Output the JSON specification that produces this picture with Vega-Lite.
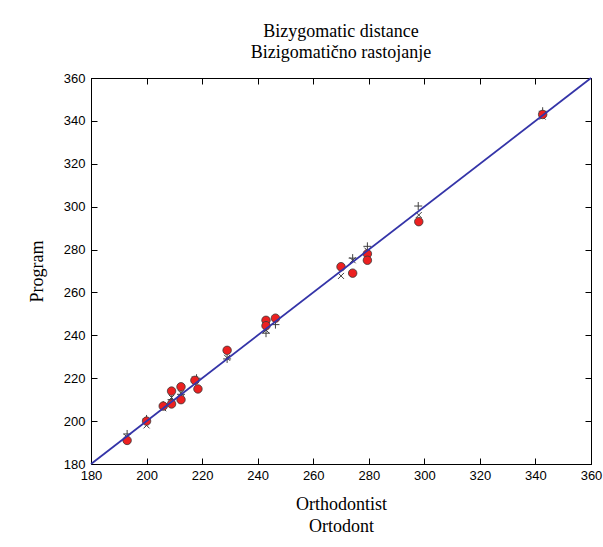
{
  "$schema": "https://vega.github.io/schema/vega-lite/v6.json",
  "width": 500,
  "height": 386,
  "autosize": "none",
  "padding": {"left": 91, "top": 78, "right": 12, "bottom": 83},
  "background": "white",
  "title": {
    "text": ["Bizygomatic distance", "Bizigomatično rastojanje"],
    "font": "Liberation Serif",
    "fontSize": 18,
    "fontWeight": "normal",
    "color": "black",
    "lineHeight": 21,
    "offset": 10,
    "anchor": "middle"
  },
  "config": {
    "view": {"stroke": "black", "strokeWidth": 1},
    "axis": {
      "grid": false,
      "domainColor": "black",
      "domainWidth": 1,
      "tickColor": "black",
      "tickSize": -6,
      "labelColor": "black",
      "labelFont": "Liberation Sans",
      "labelFontSize": 13,
      "labelFlush": false,
      "labelOverlap": false,
      "titleFont": "Liberation Serif",
      "titleFontSize": 18,
      "titleFontWeight": "normal",
      "titleColor": "black"
    }
  },
  "datasets": {
    "diag": [{"orth": 180, "prog": 180}, {"orth": 360, "prog": 360}],
    "pts": [
      {"orth": 193, "prog": 191, "series": "circle"},
      {"orth": 200, "prog": 200, "series": "circle"},
      {"orth": 206, "prog": 207, "series": "circle"},
      {"orth": 209, "prog": 208, "series": "circle"},
      {"orth": 209, "prog": 214, "series": "circle"},
      {"orth": 212.4, "prog": 210, "series": "circle"},
      {"orth": 212.4, "prog": 216, "series": "circle"},
      {"orth": 217.4, "prog": 219, "series": "circle"},
      {"orth": 218.5, "prog": 215, "series": "circle"},
      {"orth": 229, "prog": 233, "series": "circle"},
      {"orth": 243, "prog": 247, "series": "circle"},
      {"orth": 243, "prog": 244.5, "series": "circle"},
      {"orth": 246.4, "prog": 248, "series": "circle"},
      {"orth": 270, "prog": 272, "series": "circle"},
      {"orth": 274.2, "prog": 269, "series": "circle"},
      {"orth": 279.5, "prog": 278, "series": "circle"},
      {"orth": 279.5, "prog": 275, "series": "circle"},
      {"orth": 298, "prog": 293, "series": "circle"},
      {"orth": 342.6, "prog": 343, "series": "circle"},
      {"orth": 193, "prog": 194, "series": "plus"},
      {"orth": 200, "prog": 201, "series": "plus"},
      {"orth": 206, "prog": 207.5, "series": "plus"},
      {"orth": 209, "prog": 210, "series": "plus"},
      {"orth": 212.4, "prog": 212.5, "series": "plus"},
      {"orth": 218, "prog": 220, "series": "plus"},
      {"orth": 229, "prog": 229, "series": "plus"},
      {"orth": 243, "prog": 241, "series": "plus"},
      {"orth": 246.4, "prog": 245, "series": "plus"},
      {"orth": 274.2, "prog": 276, "series": "plus"},
      {"orth": 279.5, "prog": 281.5, "series": "plus"},
      {"orth": 297.8, "prog": 300.3, "series": "plus"},
      {"orth": 342.6, "prog": 344.5, "series": "plus"},
      {"orth": 193, "prog": 192.5, "series": "x"},
      {"orth": 200, "prog": 198, "series": "x"},
      {"orth": 206, "prog": 206, "series": "x"},
      {"orth": 209, "prog": 211, "series": "x"},
      {"orth": 212.4, "prog": 213, "series": "x"},
      {"orth": 217.4, "prog": 219.5, "series": "x"},
      {"orth": 229, "prog": 229.5, "series": "x"},
      {"orth": 243, "prog": 242.5, "series": "x"},
      {"orth": 270, "prog": 267.7, "series": "x"},
      {"orth": 274.2, "prog": 275, "series": "x"},
      {"orth": 279.5, "prog": 279.5, "series": "x"},
      {"orth": 298, "prog": 296.1, "series": "x"},
      {"orth": 342.6, "prog": 342, "series": "x"}
    ]
  },
  "resolve": {"axis": {"x": "independent", "y": "independent"}},
  "layer": [
    {
      "data": {"name": "pts"},
      "transform": [{"filter": "datum.series === 'plus'"}],
      "mark": {"type": "point", "shape": "M-1,0L1,0M0,-1L0,1", "filled": false, "stroke": "#3f3f3f", "strokeWidth": 1, "size": 64, "opacity": 1},
      "encoding": {
        "x": {"field": "orth", "type": "quantitative", "scale": {"domain": [180, 360], "nice": false, "zero": false},
              "axis": {"orient": "bottom", "values": [180, 200, 220, 240, 260, 280, 300, 320, 340, 360], "labelPadding": 11, "title": ["Orthodontist", "Ortodont"], "titlePadding": 13, "titleLineHeight": 22}},
        "y": {"field": "prog", "type": "quantitative", "scale": {"domain": [180, 360], "nice": false, "zero": false},
              "axis": {"orient": "left", "values": [180, 200, 220, 240, 260, 280, 300, 320, 340, 360], "labelPadding": 12, "title": "Program", "titlePadding": 17}}
      }
    },
    {
      "data": {"name": "pts"},
      "transform": [{"filter": "datum.series === 'x'"}],
      "mark": {"type": "point", "shape": "M-1,-1L1,1M-1,1L1,-1", "filled": false, "stroke": "#3f3f3f", "strokeWidth": 1, "size": 36, "opacity": 1},
      "encoding": {
        "x": {"field": "orth", "type": "quantitative", "axis": {"orient": "top", "values": [180, 200, 220, 240, 260, 280, 300, 320, 340, 360], "labels": false, "title": null}},
        "y": {"field": "prog", "type": "quantitative", "axis": {"orient": "right", "values": [180, 200, 220, 240, 260, 280, 300, 320, 340, 360], "labels": false, "title": null}}
      }
    },
    {
      "data": {"name": "pts"},
      "transform": [{"filter": "datum.series === 'circle'"}],
      "mark": {"type": "point", "shape": "circle", "filled": true, "fill": "#ec2020", "stroke": "#3a3a3a", "strokeWidth": 0.8, "size": 72, "opacity": 1},
      "encoding": {
        "x": {"field": "orth", "type": "quantitative", "axis": null},
        "y": {"field": "prog", "type": "quantitative", "axis": null}
      }
    },
    {
      "data": {"name": "diag"},
      "mark": {"type": "line", "color": "#3434a8", "strokeWidth": 1.8},
      "encoding": {
        "x": {"field": "orth", "type": "quantitative", "axis": null},
        "y": {"field": "prog", "type": "quantitative", "axis": null}
      }
    }
  ]
}
